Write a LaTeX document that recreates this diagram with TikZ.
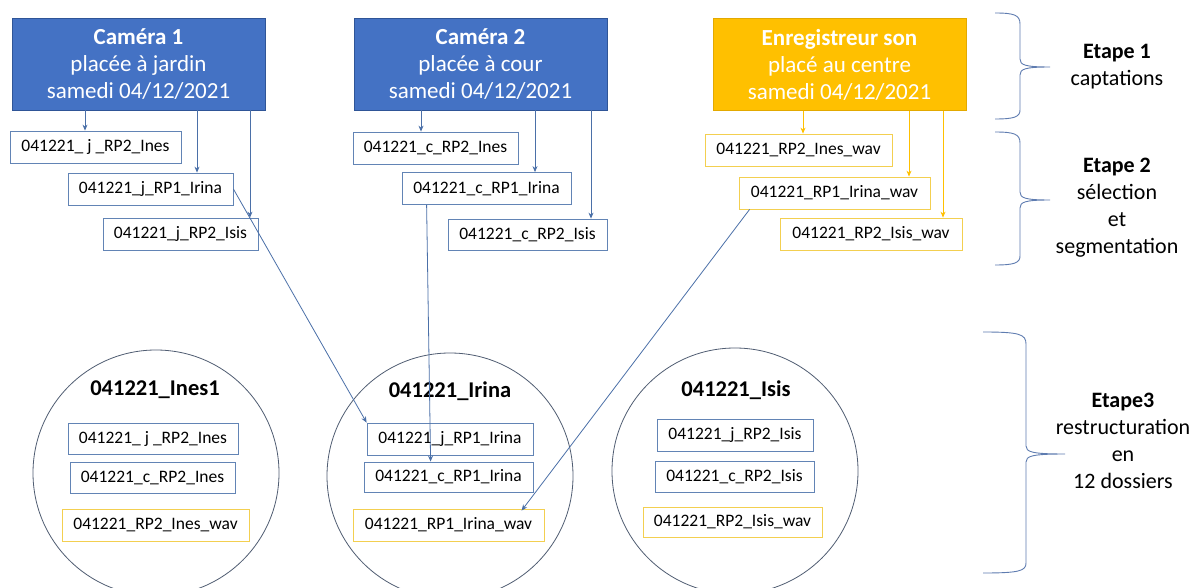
\documentclass[tikz,border=0pt]{standalone}
\usepackage{fontspec}
\setmainfont{Carlito}
\usetikzlibrary{calc,arrows.meta}
\definecolor{hblue}{HTML}{4472C4}
\definecolor{hblueD}{HTML}{2F5597}
\definecolor{bblue}{HTML}{6284B5}
\definecolor{hyel}{HTML}{FFC000}
\definecolor{hyelD}{HTML}{E3A900}
\definecolor{byel}{HTML}{F3CF50}
\definecolor{circc}{HTML}{505D72}
\definecolor{brc}{HTML}{5E7CB0}
\definecolor{arrb}{HTML}{4B70A8}
\begin{document}
\begin{tikzpicture}[x=1pt,y=-1pt,
  header/.style={draw=hblueD, fill=hblue, text=white, minimum width=253pt, minimum height=92pt,
    inner sep=0pt, align=center, font=\fontsize{23}{27}\selectfont, line width=0.8pt},
  recbox/.style={header, draw=hyelD, fill=hyel},
  fbox/.style={draw=bblue, minimum height=32pt, inner sep=0pt, font=\fontsize{17.5}{20}\selectfont, line width=0.8pt},
  wbox/.style={fbox, draw=byel},
  folder/.style={circle, draw=circc, line width=0.8pt, minimum size=246pt, inner sep=0pt},
  ftitle/.style={font=\fontsize{22.5}{26}\selectfont\bfseries, inner sep=0pt},
  arr/.style={draw=arrb, line width=0.8pt, -{Stealth[length=6pt,width=5pt]}},
  yarr/.style={arr, draw=hyel},
  bracec/.style={draw=brc, line width=0.9pt},
  etape/.style={align=center, font=\fontsize{22}{27}\selectfont, inner sep=0pt}]
\useasboundingbox[fill=white] (0,0) rectangle (1194,588);

% headers
\node[header] (cam1) at (138.5,64) {\textbf{Caméra 1}\\placée à jardin\\samedi 04/12/2021};
\node[header] (cam2) at (480.5,64) {\textbf{Caméra 2}\\placée à cour\\samedi 04/12/2021};
\node[recbox] (rec) at (839.5,64.5) {\textbf{Enregistreur son}\\placé au centre\\samedi 04/12/2021};

% step 2 files
\node[fbox, minimum width=171pt] (jIn) at (95.5,147) {041221\_ j \_RP2\_Ines};
\node[fbox, minimum width=165pt] (jIr) at (150.5,189) {041221\_j\_RP1\_Irina};
\node[fbox, minimum width=155pt] (jIs) at (180.5,234) {041221\_j\_RP2\_Isis};
\node[fbox, minimum width=165pt] (cIn) at (435.5,148) {041221\_c\_RP2\_Ines};
\node[fbox, minimum width=169pt] (cIr) at (486.5,188.5) {041221\_c\_RP1\_Irina};
\node[fbox, minimum width=159pt, minimum height=31pt] (cIs) at (527.5,234.5) {041221\_c\_RP2\_Isis};
\node[wbox, minimum width=187pt] (wIn) at (798.5,150) {041221\_RP2\_Ines\_wav};
\node[wbox, minimum width=191pt] (wIr) at (834.5,193) {041221\_RP1\_Irina\_wav};
\node[wbox, minimum width=182pt] (wIs) at (871,234) {041221\_RP2\_Isis\_wav};

% vertical arrows
\draw[arr] (cam1.south -| 85,0) -- (jIn.north -| 85,0);
\draw[arr] (cam1.south -| 197,0) -- (jIr.north -| 197,0);
\draw[arr] (cam1.south -| 250,0) -- (jIs.north -| 250,0);
\draw[arr] (cam2.south -| 421,0) -- (cIn.north -| 421,0);
\draw[arr] (cam2.south -| 535,0) -- (cIr.north -| 535,0);
\draw[arr] (cam2.south -| 591,0) -- (cIs.north -| 591,0);
\draw[yarr] (rec.south -| 803,0) -- (wIn.north -| 803,0);
\draw[yarr] (rec.south -| 909,0) -- (wIr.north -| 909,0);
\draw[yarr] (rec.south -| 943,0) -- (wIs.north -| 943,0);

% folders
\node[folder] (F1) at (156,473) {};
\node[folder] (F2) at (450,476) {};
\node[folder] (F3) at (735,471) {};
\node[ftitle] (T1) at (155,390) {041221\_Ines1};
\node[ftitle] (T2) at (450,391) {041221\_Irina};
\node[ftitle] (T3) at (736,390) {041221\_Isis};

\node[fbox, minimum width=170pt, minimum height=31pt] (In1) at (153,438.5) {041221\_ j \_RP2\_Ines};
\node[fbox, minimum width=165pt, minimum height=31pt] (In2) at (152.5,477.5) {041221\_c\_RP2\_Ines};
\node[wbox, minimum width=187pt] (In3) at (155.5,525) {041221\_RP2\_Ines\_wav};
\node[fbox, minimum width=166pt] (Ir1) at (450,439) {041221\_j\_RP1\_Irina};
\node[fbox, minimum width=169pt, minimum height=30pt] (Ir2) at (448.5,477) {041221\_c\_RP1\_Irina};
\node[wbox, minimum width=191pt] (Ir3) at (448.5,525) {041221\_RP1\_Irina\_wav};
\node[fbox, minimum width=156pt] (Is1) at (735,435) {041221\_j\_RP2\_Isis};
\node[fbox, minimum width=159pt, minimum height=31pt] (Is2) at (734.5,476.5) {041221\_c\_RP2\_Isis};
\node[wbox, minimum width=179pt, minimum height=30pt] (Is3) at (732.5,522) {041221\_RP2\_Isis\_wav};

% cross arrows
\draw[arr] (jIr.east) -- (Ir1.north west);
\draw[arr] ($(cIr.south west)+(25,0)$) -- ($(Ir2.north west)+(67,0)$);
\draw[arr] ($(wIr.south west)+(11,0)$) -- ($(Ir3.north west)+(169,2)$);

% braces
\draw[bracec] (995,13) .. controls (1014,13) and (1020,15) .. (1020,24) -- (1020,59)
  .. controls (1020,65) and (1025,67) .. (1050,67)
  .. controls (1025,67) and (1020,69) .. (1020,75) -- (1020,110)
  .. controls (1020,117) and (1014,119) .. (995,119);
\draw[bracec] (995,132) .. controls (1014,132) and (1020,134) .. (1020,143) -- (1020,192)
  .. controls (1020,198) and (1025,200) .. (1050,200)
  .. controls (1025,200) and (1020,202) .. (1020,208) -- (1020,256)
  .. controls (1020,263) and (1014,265) .. (995,265);
\draw[bracec] (983,332) .. controls (1019,332) and (1026,334) .. (1026,344) -- (1026,446)
  .. controls (1026,452) and (1032,454) .. (1065,454)
  .. controls (1032,454) and (1026,456) .. (1026,462) -- (1026,563)
  .. controls (1026,571) and (1019,573) .. (983,573);

% step labels
\node[etape] (E1) at (1117,67) {\textbf{Etape 1}\\captations};
\node[etape] (E2) at (1117,208) {\textbf{Etape 2}\\sélection\\et\\segmentation};
\node[etape] (E3) at (1123,441) {\textbf{Etape3}\\restructuration\\en\\12 dossiers};
\end{tikzpicture}
\end{document}
